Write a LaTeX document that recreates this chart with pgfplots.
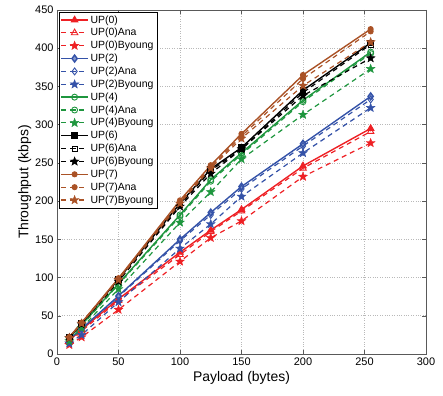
\documentclass[border=0pt]{standalone}
\usepackage{pgfplots}
\pgfplotsset{compat=1.18}
\usepackage{fontspec}
\setmainfont{Liberation Sans}
\usetikzlibrary{plotmarks}
\definecolor{cR}{RGB}{238,32,36}
\definecolor{cB}{RGB}{52,82,168}
\definecolor{cG}{RGB}{30,150,62}
\definecolor{cK}{RGB}{0,0,0}
\definecolor{cN}{RGB}{170,82,38}
\pgfdeclareplotmark{pent*}{%
  \pgfpathmoveto{\pgfqpointpolar{90}{\pgfplotmarksize}}%
  \pgfpathlineto{\pgfqpointpolar{126}{0.42\pgfplotmarksize}}%
  \pgfpathlineto{\pgfqpointpolar{162}{\pgfplotmarksize}}%
  \pgfpathlineto{\pgfqpointpolar{198}{0.42\pgfplotmarksize}}%
  \pgfpathlineto{\pgfqpointpolar{234}{\pgfplotmarksize}}%
  \pgfpathlineto{\pgfqpointpolar{270}{0.42\pgfplotmarksize}}%
  \pgfpathlineto{\pgfqpointpolar{306}{\pgfplotmarksize}}%
  \pgfpathlineto{\pgfqpointpolar{342}{0.42\pgfplotmarksize}}%
  \pgfpathlineto{\pgfqpointpolar{18}{\pgfplotmarksize}}%
  \pgfpathlineto{\pgfqpointpolar{54}{0.42\pgfplotmarksize}}%
  \pgfpathclose
  \pgfusepathqfillstroke}
\pgfplotsset{
  sol/.style={solid, line width=1.4pt, mark options={solid, line width=0.9pt}},
  das/.style={dash pattern=on 5pt off 4pt, line width=1.2pt, mark options={solid, line width=0.9pt}},
  st/.style={mark=pent*, mark size=4.6pt, mark options={solid, line width=0.4pt, fill=#1}},
}
\begin{document}
\begin{tikzpicture}
\begin{axis}[
  at={(0,0)}, anchor=south west,
  scale only axis, width=369bp, height=344bp,
  xmin=0, xmax=300, ymin=0, ymax=450,
  xtick={0,50,...,300}, ytick={0,50,...,450},
  grid=major,
  major grid style={gray!55, dotted, line width=0.6pt},
  tick align=inside, tick pos=both,
  major tick length=4bp,
  axis line style={gray!70!black, line width=0.5pt},
  tick style={gray!70!black, line width=0.5pt},
  /pgf/number format/assume math mode=true,
  ticklabel style={font=\fontsize{11}{12}\selectfont},
  xlabel={Payload (bytes)}, ylabel={Throughput (kbps)},
  label style={font=\fontsize{14}{16}\selectfont},
  xlabel style={yshift=1bp},
  ylabel style={yshift=-3bp},
  legend cell align=left,
  legend style={font=\fontsize{10.5}{11}\selectfont, draw=black, line width=0.5pt,
    at={(0.005,0.995)}, anchor=north west, inner sep=1.5pt, row sep=-0.2pt},
  legend image code/.code={
    \draw[mark repeat=2,mark phase=2] plot coordinates {(0cm,0cm) (0.47cm,0cm) (0.94cm,0cm)};},
]
% UP(0)
\addplot[cR, sol, mark=triangle*, mark size=3.8pt] coordinates {(10,18) (20,32) (50,72) (100,133) (125,162) (150,189) (200,246) (255,295)};
\addlegendentry{UP(0)}
\addplot[cR, das, mark=triangle, mark size=3.8pt] coordinates {(10,17) (20,30) (50,70) (100,130) (125,160) (150,187) (200,243) (255,291)};
\addlegendentry{UP(0)Ana}
\addplot[cR, das, st=cR] coordinates {(10,12) (20,22) (50,58) (100,121) (125,152) (150,174) (200,232) (255,276)};
\addlegendentry{UP(0)Byoung}
% UP(2)
\addplot[cB, sol, mark=diamond*, mark size=3.5pt, mark options={fill=cB!60}] coordinates {(10,19) (20,33) (50,76) (100,150) (125,185) (150,219) (200,275) (255,337)};
\addlegendentry{UP(2)}
\addplot[cB, das, mark=diamond, mark size=3.5pt] coordinates {(10,19) (20,33) (50,75) (100,148) (125,182) (150,216) (200,272) (255,333)};
\addlegendentry{UP(2)Ana}
\addplot[cB, das, st=cB] coordinates {(10,14) (20,25) (50,68) (100,138) (125,170) (150,206) (200,263) (255,322)};
\addlegendentry{UP(2)Byoung}
% UP(4)
\addplot[cG, sol, mark=o, mark size=3pt] coordinates {(10,21) (20,38) (50,92) (100,182) (125,228) (150,263) (200,332) (255,395)};
\addlegendentry{UP(4)}
\addplot[cG, das, mark=o, mark size=3pt] coordinates {(10,20) (20,37) (50,91) (100,180) (125,226) (150,261) (200,330) (255,393)};
\addlegendentry{UP(4)Ana}
\addplot[cG, das, st=cG] coordinates {(10,17) (20,34) (50,85) (100,172) (125,212) (150,255) (200,313) (255,373)};
\addlegendentry{UP(4)Byoung}
% UP(6)
\addplot[cK, sol, mark=square*, mark size=2.6pt, mark options={fill=cK}] coordinates {(10,22) (20,40) (50,98) (100,197) (125,242) (150,270) (200,345) (255,407)};
\addlegendentry{UP(6)}
\addplot[cK, das, mark=square, mark size=2.6pt] coordinates {(10,22) (20,40) (50,97) (100,195) (125,240) (150,268) (200,342) (255,405)};
\addlegendentry{UP(6)Ana}
\addplot[cK, das, st=cK] coordinates {(10,21) (20,39) (50,95) (100,193) (125,236) (150,268) (200,338) (255,387)};
\addlegendentry{UP(6)Byoung}
% UP(7)
\addplot[cN, sol, mark=*, mark size=2.6pt] coordinates {(10,22) (20,41) (50,99) (100,201) (125,247) (150,288) (200,365) (255,425)};
\addlegendentry{UP(7)}
\addplot[cN, das, mark=*, mark size=2.6pt] coordinates {(10,22) (20,41) (50,99) (100,199) (125,245) (150,285) (200,360) (255,422)};
\addlegendentry{UP(7)Ana}
\addplot[cN, das, st=cN] coordinates {(10,21) (20,40) (50,97) (100,197) (125,243) (150,282) (200,351) (255,408)};
\addlegendentry{UP(7)Byoung}
\end{axis}
\pgfresetboundingbox
\path (-57bp,-42bp) rectangle (386bp,354bp);
\end{tikzpicture}
\end{document}
